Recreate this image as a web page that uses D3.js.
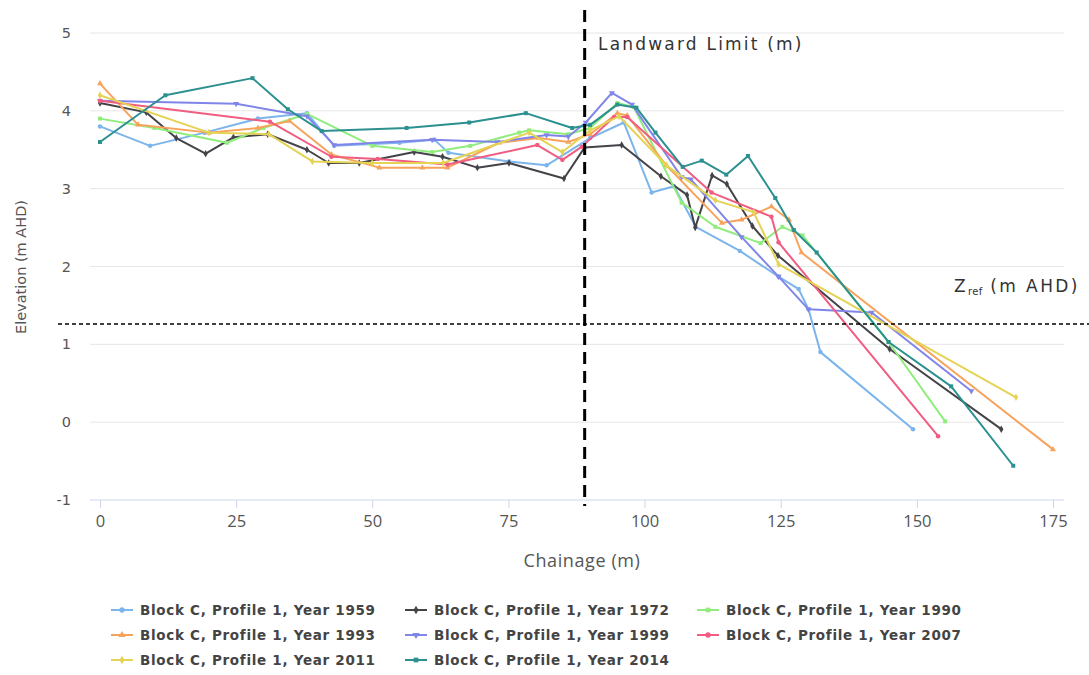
<!DOCTYPE html>
<html>
<head>
<meta charset="utf-8">
<script src="https://cdn.jsdelivr.net/npm/d3@7"></script>
<style>
  html, body { margin: 0; padding: 0; background: #fff; }
  svg { display: block; }
</style>
</head>
<body>
<svg id="chart" width="1089" height="675"></svg>
<script>
// Beach profile surveys, Block C Profile 1: [chainage (m), elevation (m AHD)]
const years = ["1959", "1972", "1990", "1993", "1999", "2007", "2011", "2014"];
const colors = ["#7cb5ec", "#434348", "#90ed7d", "#f7a35c", "#8085e9", "#f15c80", "#e4d354", "#2b908f"];

const profile1959 = [[0,3.8],[9.2,3.55],[19.2,3.72],[29,3.9],[38,3.97],[43,3.55],[55,3.59],[61.4,3.63],[64,3.46],[75.1,3.35],[82,3.3],[90,3.65],[96.2,3.85],[101.3,2.95],[105.4,3.03],[109.4,2.51],[117.5,2.2],[124.6,1.87],[128.3,1.71],[130.1,1.45],[132.3,0.9],[149.3,-0.09]];
const profile1972 = [[0,4.1],[8.5,3.98],[14,3.65],[19.4,3.45],[24.5,3.66],[30.8,3.7],[38,3.5],[42,3.33],[47.6,3.33],[57.7,3.47],[62.9,3.41],[69.3,3.27],[75.1,3.33],[85.2,3.13],[89,3.53],[95.8,3.56],[103,3.16],[107.8,2.92],[109.3,2.5],[112.4,3.17],[115.1,3.06],[119.8,2.52],[124.5,2.14],[145,0.94],[165.5,-0.09]];
const profile1990 = [[0,3.9],[10,3.78],[23.3,3.59],[30,3.78],[38,3.96],[50,3.55],[61,3.47],[68,3.55],[77,3.72],[78.8,3.75],[86,3.7],[90,3.78],[95,4.1],[98,4.05],[106.8,2.82],[113,2.51],[121.3,2.3],[125.3,2.51],[129,2.4],[144.8,1.03],[155.2,0.01]];
const profile1993 = [[0,4.35],[7,3.82],[20,3.72],[29,3.78],[34.8,3.87],[42.5,3.44],[51.3,3.27],[59.2,3.27],[63.8,3.27],[73.3,3.59],[80.6,3.65],[86,3.6],[90,3.7],[95,3.97],[96.8,3.94],[104,3.3],[114.2,2.56],[117.8,2.6],[123.3,2.77],[126.5,2.6],[128.8,2.18],[175,-0.35]];
const profile1999 = [[0,4.13],[25,4.09],[38,3.93],[43,3.56],[61,3.63],[73,3.6],[82,3.69],[86,3.67],[89.2,3.85],[94,4.23],[97.7,4.08],[106.8,3.15],[108.5,3.12],[117.8,2.38],[124.6,1.87],[130.1,1.45],[141.7,1.41],[160,0.4]];
const profile2007 = [[0,4.13],[31.2,3.86],[42.5,3.41],[51,3.38],[63.8,3.31],[80.3,3.56],[84.9,3.37],[88.5,3.54],[94.4,3.92],[96.8,3.92],[112.3,2.95],[123.3,2.64],[124.6,2.31],[153.9,-0.18]];
const profile2011 = [[0,4.2],[20,3.72],[31,3.7],[39,3.35],[50,3.33],[63,3.33],[78.8,3.72],[84.9,3.47],[90,3.75],[95.3,3.93],[104,3.3],[113,2.85],[120,2.7],[124.6,2.03],[168.2,0.32]];
const profile2014 = [[0,3.6],[12,4.2],[28,4.42],[34.5,4.02],[40.7,3.74],[56.3,3.78],[67.8,3.85],[78.2,3.97],[86.7,3.78],[90,3.82],[95,4.08],[98.5,4.04],[102,3.72],[107,3.28],[110.5,3.36],[115,3.18],[119,3.42],[124,2.88],[127.4,2.47],[131.6,2.18],[144.8,1.03],[156.3,0.46],[167.7,-0.56]];

const profiles = [profile1959, profile1972, profile1990, profile1993, profile1999, profile2007, profile2011, profile2014];

const chainageTicks = [0, 25, 50, 75, 100, 125, 150, 175];
const elevationTicks = [-1, 0, 1, 2, 3, 4, 5];

// Reference lines
const landwardLimit = 89;   // chainage (m)
const zRef = 1.26;          // elevation (m AHD)

const svg = d3.select("#chart");
const x = d3.scaleLinear().domain([0, 175]).range([100, 1053]);
const y = d3.scaleLinear().domain([-1, 5]).range([500, 33]);
const plotLeft = 90, plotRight = 1064;

const labelFont = "'DejaVu Sans', Verdana, sans-serif";
const axisFont = "'Liberation Sans Narrow', 'Open Sans', sans-serif";

// Horizontal grid
svg.append("g").selectAll("line").data(elevationTicks.filter(d => d > -1)).join("line")
  .attr("x1", plotLeft).attr("x2", plotRight)
  .attr("y1", d => y(d)).attr("y2", d => y(d))
  .attr("stroke", "#e6e6e6").attr("stroke-width", 1);

// Y tick labels
svg.append("g").selectAll("text").data(elevationTicks).join("text")
  .attr("x", 71).attr("y", d => y(d) + 5)
  .attr("text-anchor", "end")
  .attr("font-family", labelFont).attr("font-size", 14.5)
  .attr("fill", "#555")
  .text(d => d);

// X axis
const xAxis = d3.axisBottom(x).tickValues(chainageTicks).tickSize(8).tickPadding(7).tickSizeOuter(0);
const gx = svg.append("g").attr("transform", `translate(0,${y(-1)})`).call(xAxis);
gx.select(".domain").remove();
gx.append("line").attr("x1", plotLeft).attr("x2", plotRight).attr("stroke", "#ccd6eb");
gx.selectAll(".tick line").attr("stroke", "#ccd6eb");
gx.selectAll(".tick text").attr("fill", "#555").attr("font-size", 16.5)
  .attr("font-family", axisFont);

// Axis titles
svg.append("text").attr("x", 582).attr("y", 567).attr("text-anchor", "middle")
  .attr("font-family", axisFont).attr("font-size", 18).attr("letter-spacing", 0.6)
  .attr("fill", "#555")
  .text("Chainage (m)");
svg.append("text").attr("transform", "translate(26,267) rotate(-90)")
  .attr("text-anchor", "middle")
  .attr("font-family", labelFont).attr("font-size", 14.5).attr("fill", "#555")
  .text("Elevation (m AHD)");

// Profile lines and markers
const symbolTypes = [d3.symbolCircle, d3.symbolDiamond, d3.symbolSquare, d3.symbolTriangle, "down", d3.symbolCircle, d3.symbolDiamond, d3.symbolSquare];
function marker(sel, i, size) {
  const t = symbolTypes[i];
  const path = d3.symbol().type(t === "down" ? d3.symbolTriangle : t).size(size);
  sel.attr("d", path).attr("fill", colors[i]);
  return t === "down";
}

const line = d3.line().x(d => x(d[0])).y(d => y(d[1]));
profiles.forEach((pts, i) => {
  const g = svg.append("g");
  g.append("path").datum(pts).attr("d", line)
    .attr("fill", "none").attr("stroke", colors[i]).attr("stroke-width", 2)
    .attr("stroke-linejoin", "round").attr("stroke-linecap", "round");
  g.selectAll("path.pt").data(pts).join("path").attr("class", "pt")
    .each(function (d) {
      const sel = d3.select(this);
      const down = marker(sel, i, 16);
      sel.attr("transform", `translate(${x(d[0])},${y(d[1])})${down ? " rotate(180)" : ""}`);
    });
});

// Landward limit
svg.append("line")
  .attr("x1", x(landwardLimit)).attr("x2", x(landwardLimit))
  .attr("y1", 10).attr("y2", 506)
  .attr("stroke", "#000").attr("stroke-width", 3).attr("stroke-dasharray", "12,7");
svg.append("text").attr("x", 598).attr("y", 50)
  .attr("font-family", labelFont).attr("font-size", 17).attr("letter-spacing", 2.2)
  .attr("fill", "#333")
  .text("Landward Limit (m)");

// Reference elevation
svg.append("line")
  .attr("x1", 58).attr("x2", 1089)
  .attr("y1", y(zRef)).attr("y2", y(zRef))
  .attr("stroke", "#000").attr("stroke-width", 1.5).attr("stroke-dasharray", "4,3");
const zt = svg.append("text").attr("x", 954).attr("y", 292)
  .attr("font-family", labelFont).attr("font-size", 17).attr("letter-spacing", 2.4)
  .attr("fill", "#333");
zt.append("tspan").text("Z");
zt.append("tspan").attr("font-size", 10).attr("letter-spacing", 0.3).attr("dy", 3).text("ref");
zt.append("tspan").attr("dy", -3).text(" (m AHD)");

// Legend
const legendCols = [111, 405, 697];
const legendRows = [610, 635, 660];
years.forEach((yr, i) => {
  const cx = legendCols[i % 3], cy = legendRows[Math.floor(i / 3)];
  const g = svg.append("g").attr("transform", `translate(${cx},${cy})`);
  g.append("line").attr("x1", 0).attr("x2", 22).attr("stroke", colors[i]).attr("stroke-width", 2);
  const m = g.append("path");
  const down = marker(m, i, 22);
  m.attr("transform", `translate(11,0)${down ? " rotate(180)" : ""}`);
  g.append("text").attr("x", 29).attr("y", 5)
    .attr("font-family", labelFont).attr("font-weight", "bold").attr("font-size", 13.5)
    .attr("letter-spacing", 0.7)
    .attr("fill", "#444")
    .text(`Block C, Profile 1, Year ${yr}`);
});
</script>
</body>
</html>
